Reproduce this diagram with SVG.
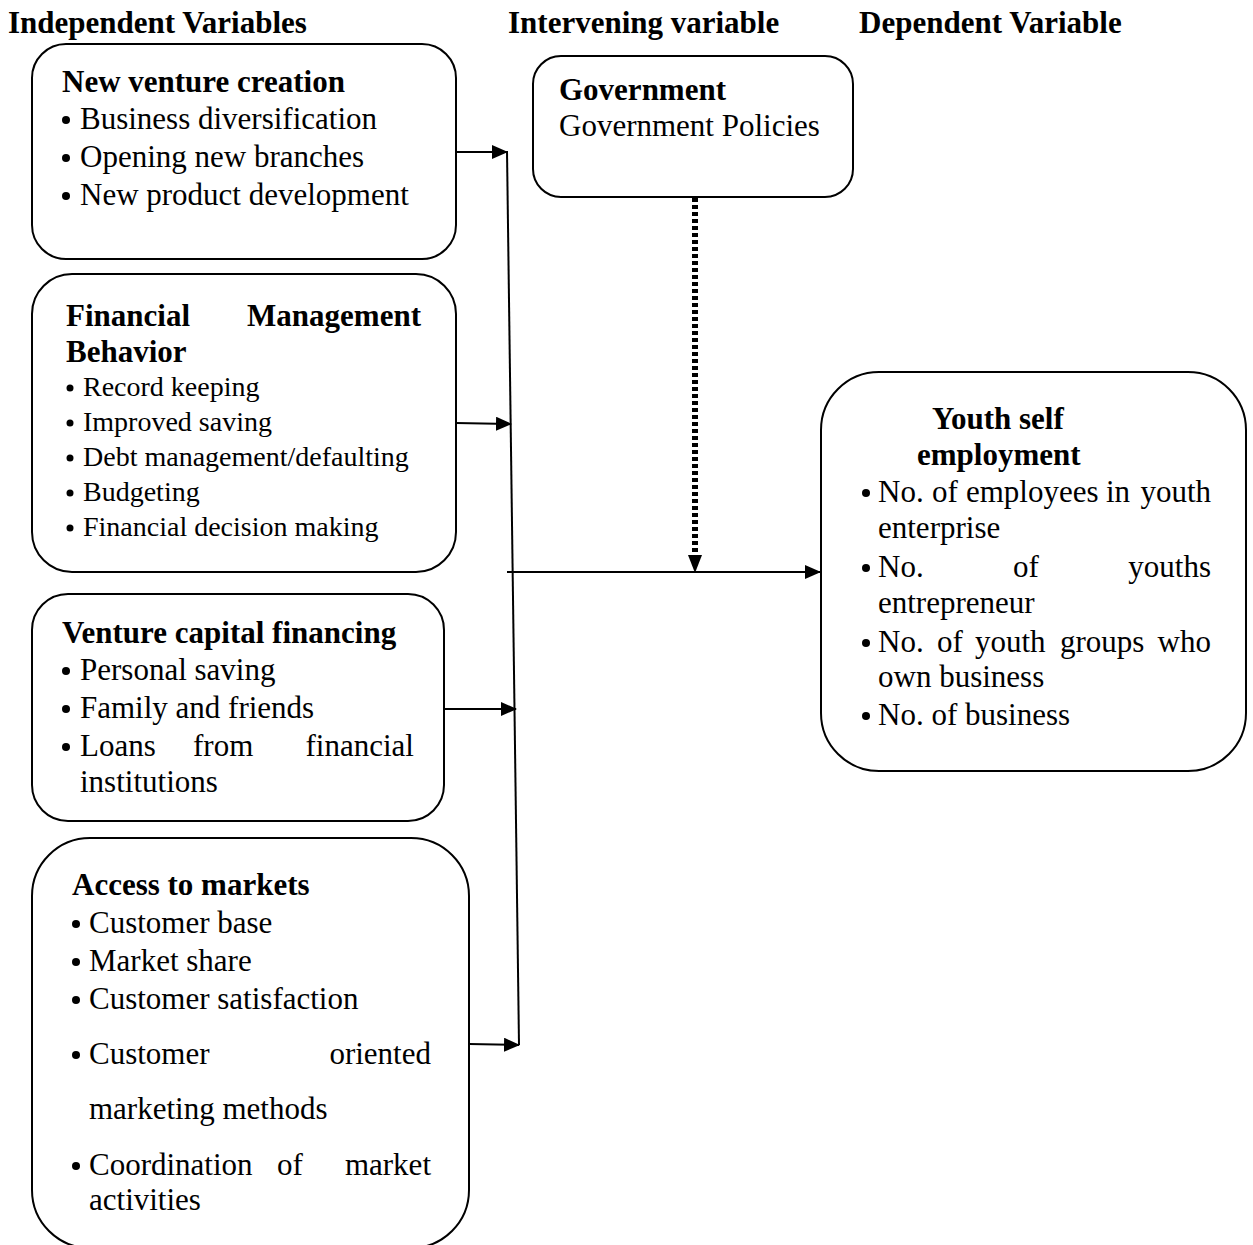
<svg xmlns="http://www.w3.org/2000/svg" width="1253" height="1245" viewBox="0 0 1253 1245">
<defs>
<marker id="arr" markerWidth="16" markerHeight="14" refX="15" refY="7" orient="auto" markerUnits="userSpaceOnUse">
<path d="M0,0 L16,7 L0,14 Z" fill="#000"/>
</marker>
</defs>
<style>
text{font-family:"Liberation Serif","Times New Roman",serif;fill:#000}
.h{font-size:31px;font-weight:bold}
.t{font-size:31px}
.s{font-size:28px}
.box{fill:#fff;stroke:#000;stroke-width:2}
.b{fill:#000}
.c{stroke:#000;stroke-width:2;fill:none}
</style>
<rect width="1253" height="1245" fill="#fff"/>
<g id="headers">
<text class="h" x="8" y="33">Independent Variables</text>
<text class="h" x="508" y="33">Intervening variable</text>
<text class="h" x="859" y="33">Dependent Variable</text>
</g>
<g id="node-new-venture">
<rect class="box" x="32" y="44" width="424" height="215" rx="34"/>
<text class="h" x="62" y="92">New venture creation</text>
<circle class="b" cx="66" cy="120" r="4"/><text class="t" x="80" y="129">Business diversification</text>
<circle class="b" cx="66" cy="158" r="4"/><text class="t" x="80" y="167">Opening new branches</text>
<circle class="b" cx="66" cy="196" r="4"/><text class="t" x="80" y="205">New product development</text>
</g>
<g id="node-financial">
<rect class="box" x="32" y="274" width="424" height="298" rx="40"/>
<text class="h"><tspan x="66" y="326">Financial</tspan><tspan x="421" y="326" text-anchor="end">Management</tspan></text>
<text class="h" x="66" y="362">Behavior</text>
<circle class="b" cx="70" cy="388" r="3.5"/><text class="s" x="83" y="396">Record keeping</text>
<circle class="b" cx="70" cy="423" r="3.5"/><text class="s" x="83" y="431">Improved saving</text>
<circle class="b" cx="70" cy="458" r="3.5"/><text class="s" x="83" y="466">Debt management/defaulting</text>
<circle class="b" cx="70" cy="493" r="3.5"/><text class="s" x="83" y="501">Budgeting</text>
<circle class="b" cx="70" cy="528" r="3.5"/><text class="s" x="83" y="536">Financial decision making</text>
</g>
<g id="node-venture-capital">
<rect class="box" x="32" y="594" width="412" height="227" rx="36"/>
<text class="h" x="62" y="643">Venture capital financing</text>
<circle class="b" cx="66" cy="671" r="4"/><text class="t" x="80" y="680">Personal saving</text>
<circle class="b" cx="66" cy="709" r="4"/><text class="t" x="80" y="718">Family and friends</text>
<circle class="b" cx="66" cy="747" r="4"/><text class="t"><tspan x="80" y="756">Loans</tspan><tspan x="193" y="756">from</tspan><tspan x="414" y="756" text-anchor="end">financial</tspan></text>
<text class="t" x="80" y="792">institutions</text>
</g>
<g id="node-access-markets">
<rect class="box" x="32" y="838" width="437" height="410" rx="58"/>
<text class="h" x="72" y="895">Access to markets</text>
<circle class="b" cx="76" cy="924" r="4"/><text class="t" x="89" y="933">Customer base</text>
<circle class="b" cx="76" cy="962" r="4"/><text class="t" x="89" y="971">Market share</text>
<circle class="b" cx="76" cy="1000" r="4"/><text class="t" x="89" y="1009">Customer satisfaction</text>
<circle class="b" cx="76" cy="1055" r="4"/><text class="t"><tspan x="89" y="1064">Customer</tspan><tspan x="431" y="1064" text-anchor="end">oriented</tspan></text>
<text class="t" x="89" y="1119">marketing methods</text>
<circle class="b" cx="76" cy="1166" r="4"/><text class="t"><tspan x="89" y="1175">Coordination</tspan><tspan x="277" y="1175">of</tspan><tspan x="431" y="1175" text-anchor="end">market</tspan></text>
<text class="t" x="89" y="1210">activities</text>
</g>
<g id="node-government">
<rect class="box" x="533" y="56" width="320" height="141" rx="28"/>
<text class="h" x="559" y="100">Government</text>
<text class="t" x="559" y="136">Government Policies</text>
</g>
<g id="node-youth">
<rect class="box" x="821" y="372" width="425" height="399" rx="58"/>
<text class="h" x="932" y="429">Youth self</text>
<text class="h" x="917" y="465">employment</text>
<circle class="b" cx="866" cy="493" r="4"/><text class="t"><tspan x="878" y="502">No.</tspan><tspan x="932" y="502">of</tspan><tspan x="966" y="502">employees</tspan><tspan x="1106" y="502">in</tspan><tspan x="1211" y="502" text-anchor="end">youth</tspan></text>
<text class="t" x="878" y="538">enterprise</text>
<circle class="b" cx="866" cy="568" r="4"/><text class="t"><tspan x="878" y="577">No.</tspan><tspan x="1013" y="577">of</tspan><tspan x="1211" y="577" text-anchor="end">youths</tspan></text>
<text class="t" x="878" y="613">entrepreneur</text>
<circle class="b" cx="866" cy="643" r="4"/><text class="t"><tspan x="878" y="652">No.</tspan><tspan x="937" y="652">of</tspan><tspan x="975" y="652">youth</tspan><tspan x="1060" y="652">groups</tspan><tspan x="1211" y="652" text-anchor="end">who</tspan></text>
<text class="t" x="878" y="687">own business</text>
<circle class="b" cx="866" cy="716" r="4"/><text class="t" x="878" y="725">No. of business</text>
</g>
<g id="connectors">
<line class="c" x1="507" y1="151" x2="519" y2="1045"/>
<line class="c" x1="456" y1="152" x2="507" y2="152" marker-end="url(#arr)"/>
<line class="c" x1="456" y1="423" x2="511" y2="424" marker-end="url(#arr)"/>
<line class="c" x1="444" y1="709" x2="516" y2="709" marker-end="url(#arr)"/>
<line class="c" x1="469" y1="1044" x2="519" y2="1045" marker-end="url(#arr)"/>
<line class="c" x1="507" y1="572" x2="820" y2="572" marker-end="url(#arr)"/>
<line x1="695" y1="198" x2="695" y2="556" stroke="#000" stroke-width="6" stroke-dasharray="4 3"/>
<path d="M688,555 L702,555 L695,573 Z" fill="#000"/>
</g>
</svg>
